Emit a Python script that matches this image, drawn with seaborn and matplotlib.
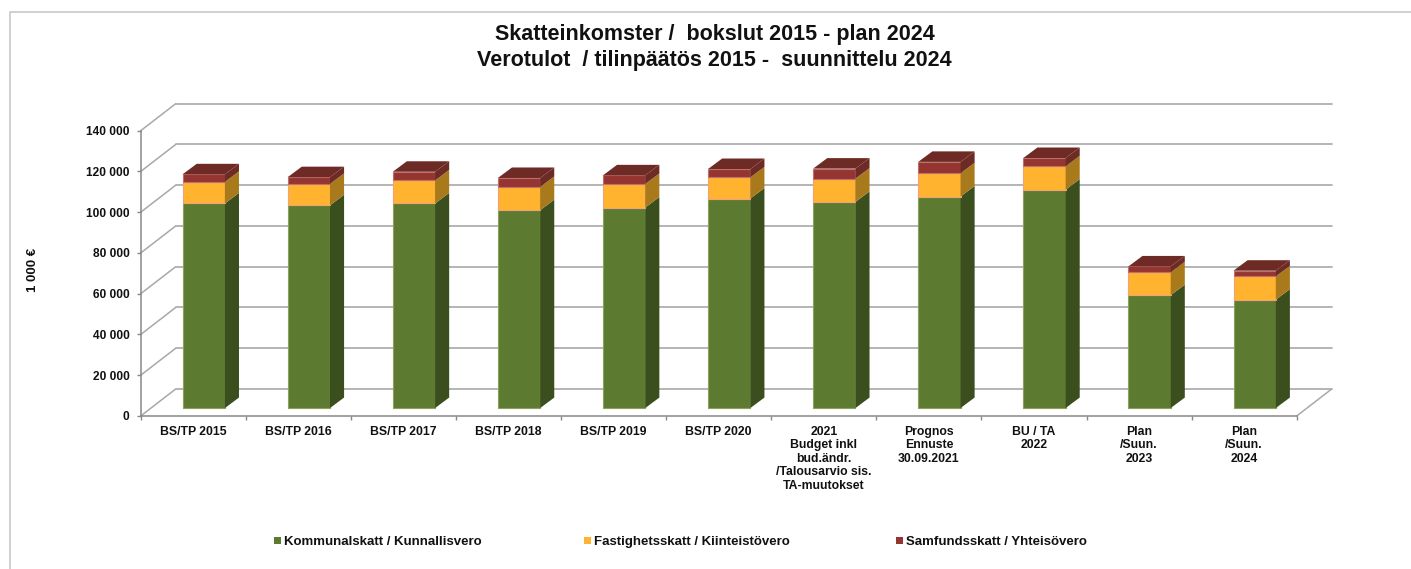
import matplotlib
matplotlib.use('Agg')
import matplotlib.pyplot as plt
from matplotlib.lines import Line2D
import numpy as np
import pandas as pd
import seaborn as sns

labels = ['BS/TP 2015', 'BS/TP 2016', 'BS/TP 2017', 'BS/TP 2018', 'BS/TP 2019', 'BS/TP 2020',
          '2021\nBudget inkl\nbud.ändr.\n/Talousarvio sis.\nTA-muutokset',
          'Prognos\nEnnuste\n30.09.2021', 'BU / TA\n2022',
          'Plan\n/Suun.\n2023', 'Plan\n/Suun.\n2024']
kommunal = [100400, 99500, 100400, 97100, 98400, 102800, 101150, 103800, 107200, 55400, 53200]
fastighet = [10600, 10500, 11300, 11400, 11570, 10400, 11450, 11400, 11400, 11200, 11400]
samfund = [3700, 3300, 4250, 4400, 4230, 4100, 4900, 5600, 4100, 2900, 2800]
series_names = ['Kommunalskatt / Kunnallisvero', 'Fastighetsskatt / Kiinteistövero', 'Samfundsskatt / Yhteisövero']
yticks = [0, 20000, 40000, 60000, 80000, 100000, 120000, 140000]

front_colors = ['#5C7B30', '#FFB32E', '#943532']
side_colors = ['#3A4E1E', '#A87A1C', '#6E2B25']
edge_colors = ['#8DA05C', '#F2A27A', '#C0706A']
grid_color = '#A8A8A8'
text_color = '#111111'

sns.set_theme(style='white')
plt.rcParams['font.family'] = ['Liberation Sans', 'DejaVu Sans']
plt.rcParams['font.weight'] = 'bold'

W, H = 1411, 569
fig = plt.figure(figsize=(W / 100, H / 100), dpi=100)
ax = fig.add_axes([140.7 / W, 1 - 416 / H, (1296.7 - 140.7) / W, (416 - 130.7) / H])
ax.patch.set_alpha(0)

# depth of the fake 3D box and of the bars, in data units
box_dx, box_dy = 0.333, 13250
bar_dx, bar_dy = 0.134, 5150
bar_x0, bar_y0 = 0.1, 3900
bar_w = 0.4025

df = pd.DataFrame({'pos': np.arange(len(labels)) + bar_x0,
                   'k': kommunal, 'f': fastighet, 's': samfund})
bottoms = np.full(len(labels), float(bar_y0))

# back wall, left wall and floor
for v in yticks:
    ax.plot([-0.5, -0.5 + box_dx], [v, v + box_dy], color=grid_color, lw=1.1, zorder=0.5, clip_on=False)
    ax.plot([-0.5 + box_dx, 10.5 + box_dx], [v + box_dy, v + box_dy], color=grid_color, lw=1.2, zorder=0.5, clip_on=False)
ax.plot([10.5, 10.5 + box_dx], [0, box_dy], color=grid_color, lw=1.1, zorder=0.5, clip_on=False)

for col, front, side, edge in zip(['k', 'f', 's'], front_colors, side_colors, edge_colors):
    sns.barplot(data=df, x='pos', y=col, native_scale=True, width=bar_w, bottom=bottoms,
                color=front, saturation=1, edgecolor=edge, linewidth=0.8, ax=ax, zorder=2, clip_on=False)
    tops = bottoms + df[col].values
    for x, b, t in zip(df['pos'], bottoms, tops):
        xr = x + bar_w / 2
        ax.fill([xr, xr + bar_dx, xr + bar_dx, xr], [b, b + bar_dy, t + bar_dy, t],
                color=side, lw=0, zorder=2, clip_on=False)
    bottoms = tops

# top face of each column
for x, t in zip(df['pos'], bottoms):
    xl, xr = x - bar_w / 2, x + bar_w / 2
    ax.fill([xl, xr, xr + bar_dx, xl + bar_dx], [t, t, t + bar_dy, t + bar_dy],
            color=side_colors[2], lw=0, zorder=2, clip_on=False)

ax.set_xlim(-0.5, 10.5)
ax.set_ylim(0, 140000)
ax.set_yticks(yticks)
ax.set_yticklabels([f'{v:,}'.replace(',', ' ') for v in yticks], fontsize=8.6, fontweight='bold', color=text_color)
ax.set_xticks(np.arange(len(labels)))
ax.set_xticklabels(labels, fontsize=8.8, fontweight='bold', color=text_color, linespacing=1.17)
ax.set_xticks(np.arange(len(labels) + 1) - 0.5, minor=True)
ax.tick_params(axis='x', which='major', length=0, pad=7)
ax.tick_params(axis='x', which='minor', length=3, width=1, color='#888888', direction='out', bottom=True)
ax.tick_params(axis='y', length=3, width=1, color='#888888', left=True, pad=5)
ax.set_xlabel('')
ax.set_ylabel('')
sns.despine(ax=ax, top=True, right=True)
for s in ['left', 'bottom']:
    ax.spines[s].set_color('#888888')
    ax.spines[s].set_linewidth(1.1)

fig.text(33 / W, 1 - 270 / H, '1 000 €', rotation=90, ha='center', va='center', fontsize=9.5, fontweight='bold', color=text_color)
fig.text(714.5 / W, 1 - 47.5 / H, 'Skatteinkomster /  bokslut 2015 - plan 2024\nVerotulot  / tilinpäätös 2015 -  suunnittelu 2024',
         ha='center', va='center', fontsize=15.5, fontweight='bold', color=text_color, linespacing=1.36)

# legend placed by hand, one entry per series
for x0, name, c in zip([274, 584, 896], series_names, front_colors):
    fig.add_artist(plt.Rectangle((x0 / W, 1 - 544 / H), 7 / W, 7 / H, transform=fig.transFigure, color=c, lw=0))
    fig.text((x0 + 10) / W, 1 - 545 / H, name, ha='left', va='baseline', fontsize=9.55, fontweight='bold', color=text_color)

# chart frame
fig.add_artist(Line2D([9.5 / W, 9.5 / W, 1], [0, 1 - 12 / H, 1 - 12 / H], color='#C8C8C8', lw=1.2))

fig.savefig('out.png', dpi=100)
